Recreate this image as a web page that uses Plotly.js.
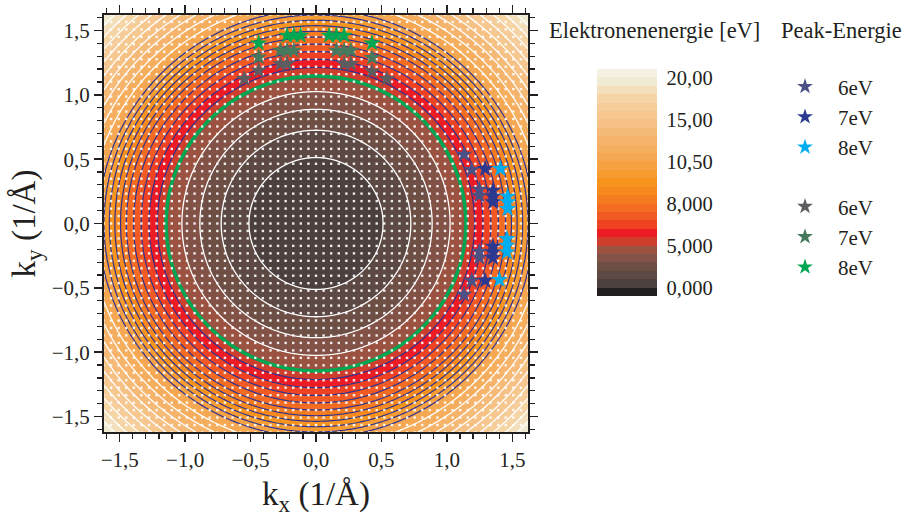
<!DOCTYPE html>
<html><head><meta charset="utf-8">
<script src="https://cdn.plot.ly/plotly-3.0.1.min.js"></script>
<style>html,body{margin:0;padding:0;background:#fff}</style>
</head><body><div id="chart" style="width:913px;height:522px"></div>
<script>
// Free-electron dispersion (1..5 eV at k = 0.515 .. 1.146 1/Å)
const EV_PER_INV_A2 = 3.81;
const K_RANGE = [-1.62, 1.62];
// Level boundaries of the colour map (eV), as in the colour bar
const colorLevels = [0,1,2,3,4,5,5.6,6.2,6.8,7.4,8,8.5,9,9.5,10,10.5,11.4,12.3,13.2,14.1,15,16,17,18,19,20];
// below-0, 25 level bands, above-20
const bandColors = ['#231f20','#4b403d','#5c4944','#6d4f46','#835246','#9c5241','#cf3d2d','#ed1c24','#ef4223','#f15a22','#f36c21','#f47b20','#f68a1f','#f7941d','#f69c31','#f6a243','#f5a851','#f5ad5e','#f5b36b','#f6ba78','#f6c184','#f6c78f','#f6cd9a','#f5d4a6','#f3dfbb','#f0ebd3','#f7f1e4'];
const cbTickVals = [0,5,10,15,20,25];
const cbTickText = ['0,000','5,000','8,000','10,50','15,00','20,00'];

// Peak positions (kx, ky) in 1/Å
const peakA6_kx = [1.131,1.19,1.248,1.248,1.248,1.248,1.19,1.131];
const peakA6_ky = [0.536,0.417,0.264,0.218,-0.218,-0.264,-0.443,-0.552];
const peakA7_kx = [1.292,1.352,1.352,1.352,1.352,1.352,1.352,1.292];
const peakA7_ky = [0.425,0.256,0.21,0.166,-0.179,-0.223,-0.267,-0.443];
const peakA8_kx = [1.408,1.464,1.464,1.464,1.459,1.459,1.459,1.402];
const peakA8_ky = [0.425,0.21,0.166,0.114,-0.119,-0.171,-0.223,-0.437];
const peakB6_kx = [-0.548,-0.438,-0.272,-0.221,0.215,0.267,0.428,0.541];
const peakB6_ky = [1.124,1.189,1.241,1.241,1.241,1.241,1.183,1.124];
const peakB7_kx = [-0.438,-0.272,-0.221,-0.169,0.156,0.215,0.267,0.428];
const peakB7_ky = [1.292,1.344,1.344,1.344,1.344,1.344,1.344,1.288];
const peakB8_kx = [-0.438,-0.221,-0.169,-0.118,0.1,0.156,0.215,0.428];
const peakB8_ky = [1.401,1.461,1.461,1.461,1.461,1.461,1.461,1.401];
const peakNames = ['6eV','7eV','8eV','6eV','7eV','8eV'];
const peakColors = ['#4b5185','#2b3990','#00aeef','#5b5d60','#467a5e','#00a651'];

const DOT_STEP = 0.058;
const SERIF = 'Liberation Serif, Times New Roman, serif';

// grids
const fineStep = 0.01;
const kFine = [];
for (let v = K_RANGE[0]; v <= K_RANGE[1] + 1e-9; v += fineStep) kFine.push(+v.toFixed(4));
function levelIndex(E) {
  const L = colorLevels;
  if (E >= L[L.length-1]) return L.length-1 + (E - L[L.length-1]);
  for (let i = 0; i < L.length-1; i++) {
    if (E < L[i+1]) return i + (E - L[i]) / (L[i+1] - L[i]);
  }
}
const zE = [], zIdx = [];
for (const ky of kFine) {
  const rE = [], rI = [];
  for (const kx of kFine) {
    const E = EV_PER_INV_A2 * (kx*kx + ky*ky);
    rE.push(E); rI.push(levelIndex(E));
  }
  zE.push(rE); zIdx.push(rI);
}
const nb = bandColors.length;
const cs = [];
bandColors.forEach((c, j) => { cs.push([j/nb, c]); cs.push([(j+1)/nb, c]); });

const dotX = [], dotY = [];
for (let i = -28; i <= 28; i++) for (let j = -28; j <= 28; j++) {
  dotX.push(i*DOT_STEP); dotY.push(j*DOT_STEP);
}

const traces = [];
traces.push({type:'heatmap', x:kFine, y:kFine, z:zIdx, zmin:-1, zmax:nb-1, colorscale:cs, zsmooth:false,
  hoverinfo:'skip', showlegend:false,
  colorbar:{x:1.163, xanchor:'left', y:0.598, yanchor:'middle', lenmode:'pixels', len:227, thicknessmode:'pixels', thickness:60,
    outlinewidth:0, ticks:'outside', ticklen:6, tickcolor:'rgba(0,0,0,0)', tickmode:'array', tickvals:cbTickVals, ticktext:cbTickText, xpad:0, ypad:0,
    tickfont:{family:SERIF, size:20.5, color:'#231f20'}}});
traces.push({type:'scatter', mode:'markers', x:dotX, y:dotY, marker:{symbol:'square', size:2.4, color:'rgba(255,255,255,0.9)'}, hoverinfo:'skip', showlegend:false, cliponaxis:true});
function lineTrace(z, start, end, color, width) {
  return {type:'contour', x:kFine, y:kFine, z:z, autocontour:false, contours:{start:start, end:end, size:1, coloring:'none'},
    line:{color:color, width:width, smoothing:0}, showscale:false, hoverinfo:'skip', showlegend:false};
}
traces.push(lineTrace(zE, 1, 4, '#ffffff', 1.3));
traces.push(lineTrace(zIdx, 6, 15, '#2e3192', 1.2));
traces.push(lineTrace(zIdx, 16, 25, '#ffffff', 1.3));
traces.push(lineTrace(zE, 5, 5, '#00a651', 3.6));
const peakX = [peakA6_kx,peakA7_kx,peakA8_kx,peakB6_kx,peakB7_kx,peakB8_kx];
const peakY = [peakA6_ky,peakA7_ky,peakA8_ky,peakB6_ky,peakB7_ky,peakB8_ky];
peakX.forEach((xs, i) => {
  traces.push({type:'scatter', mode:'markers', x:xs, y:peakY[i], name:peakNames[i], legendgroup: i < 3 ? 'a' : 'b',
    marker:{symbol:'star', size:13, color:peakColors[i], line:{width:0}}, hoverinfo:'skip'});
});

const axisCommon = {range:K_RANGE, autorange:false, showgrid:false, zeroline:true, zerolinecolor:'#231f20', zerolinewidth:2,
  showline:true, linecolor:'#231f20', linewidth:2, mirror:'allticks', ticks:'outside', ticklen:8, tickwidth:1.5, tickcolor:'#231f20',
  tick0:0, dtick:0.5, tickformat:'.1f', layer:'above traces',
  minor:{dtick:0.1, ticks:'outside', ticklen:5, tickwidth:1.2, tickcolor:'#231f20'},
  tickfont:{family:SERIF, size:21, color:'#231f20'}};

const layout = {
  width:913, height:522, margin:{l:104, r:385, t:15, b:90}, paper_bgcolor:'#fff', plot_bgcolor:'#fff',
  separators:', ', showlegend:true,
  xaxis:Object.assign({}, axisCommon, {title:{text:'k<sub>x</sub> (1/Å)', font:{family:SERIF, size:33, color:'#231f20'}, standoff:11}}),
  yaxis:Object.assign({}, axisCommon, {title:{text:'k<sub>y</sub> (1/Å)', font:{family:SERIF, size:33, color:'#231f20'}, standoff:6}}),
  legend:{x:1.5755, xanchor:'left', y:0.8768, yanchor:'top', font:{family:SERIF, size:21, color:'#231f20'}, tracegroupgap:29,
    traceorder:'grouped', bgcolor:'rgba(0,0,0,0)', itemsizing:'constant', itemwidth:56},
  annotations:[
    {text:'Elektronenenergie [eV]', xref:'paper', yref:'paper', x:1.045, xanchor:'left', y:(432-30)/417, yanchor:'middle', showarrow:false, font:{family:SERIF, size:22.5, color:'#231f20'}},
    {text:'Peak-Energie', xref:'paper', yref:'paper', x:1.593, xanchor:'left', y:(432-30)/417, yanchor:'middle', showarrow:false, font:{family:SERIF, size:22.5, color:'#231f20'}}
  ]
};
Plotly.newPlot('chart', traces, layout, {staticPlot:true, displayModeBar:false});
</script></body></html>
